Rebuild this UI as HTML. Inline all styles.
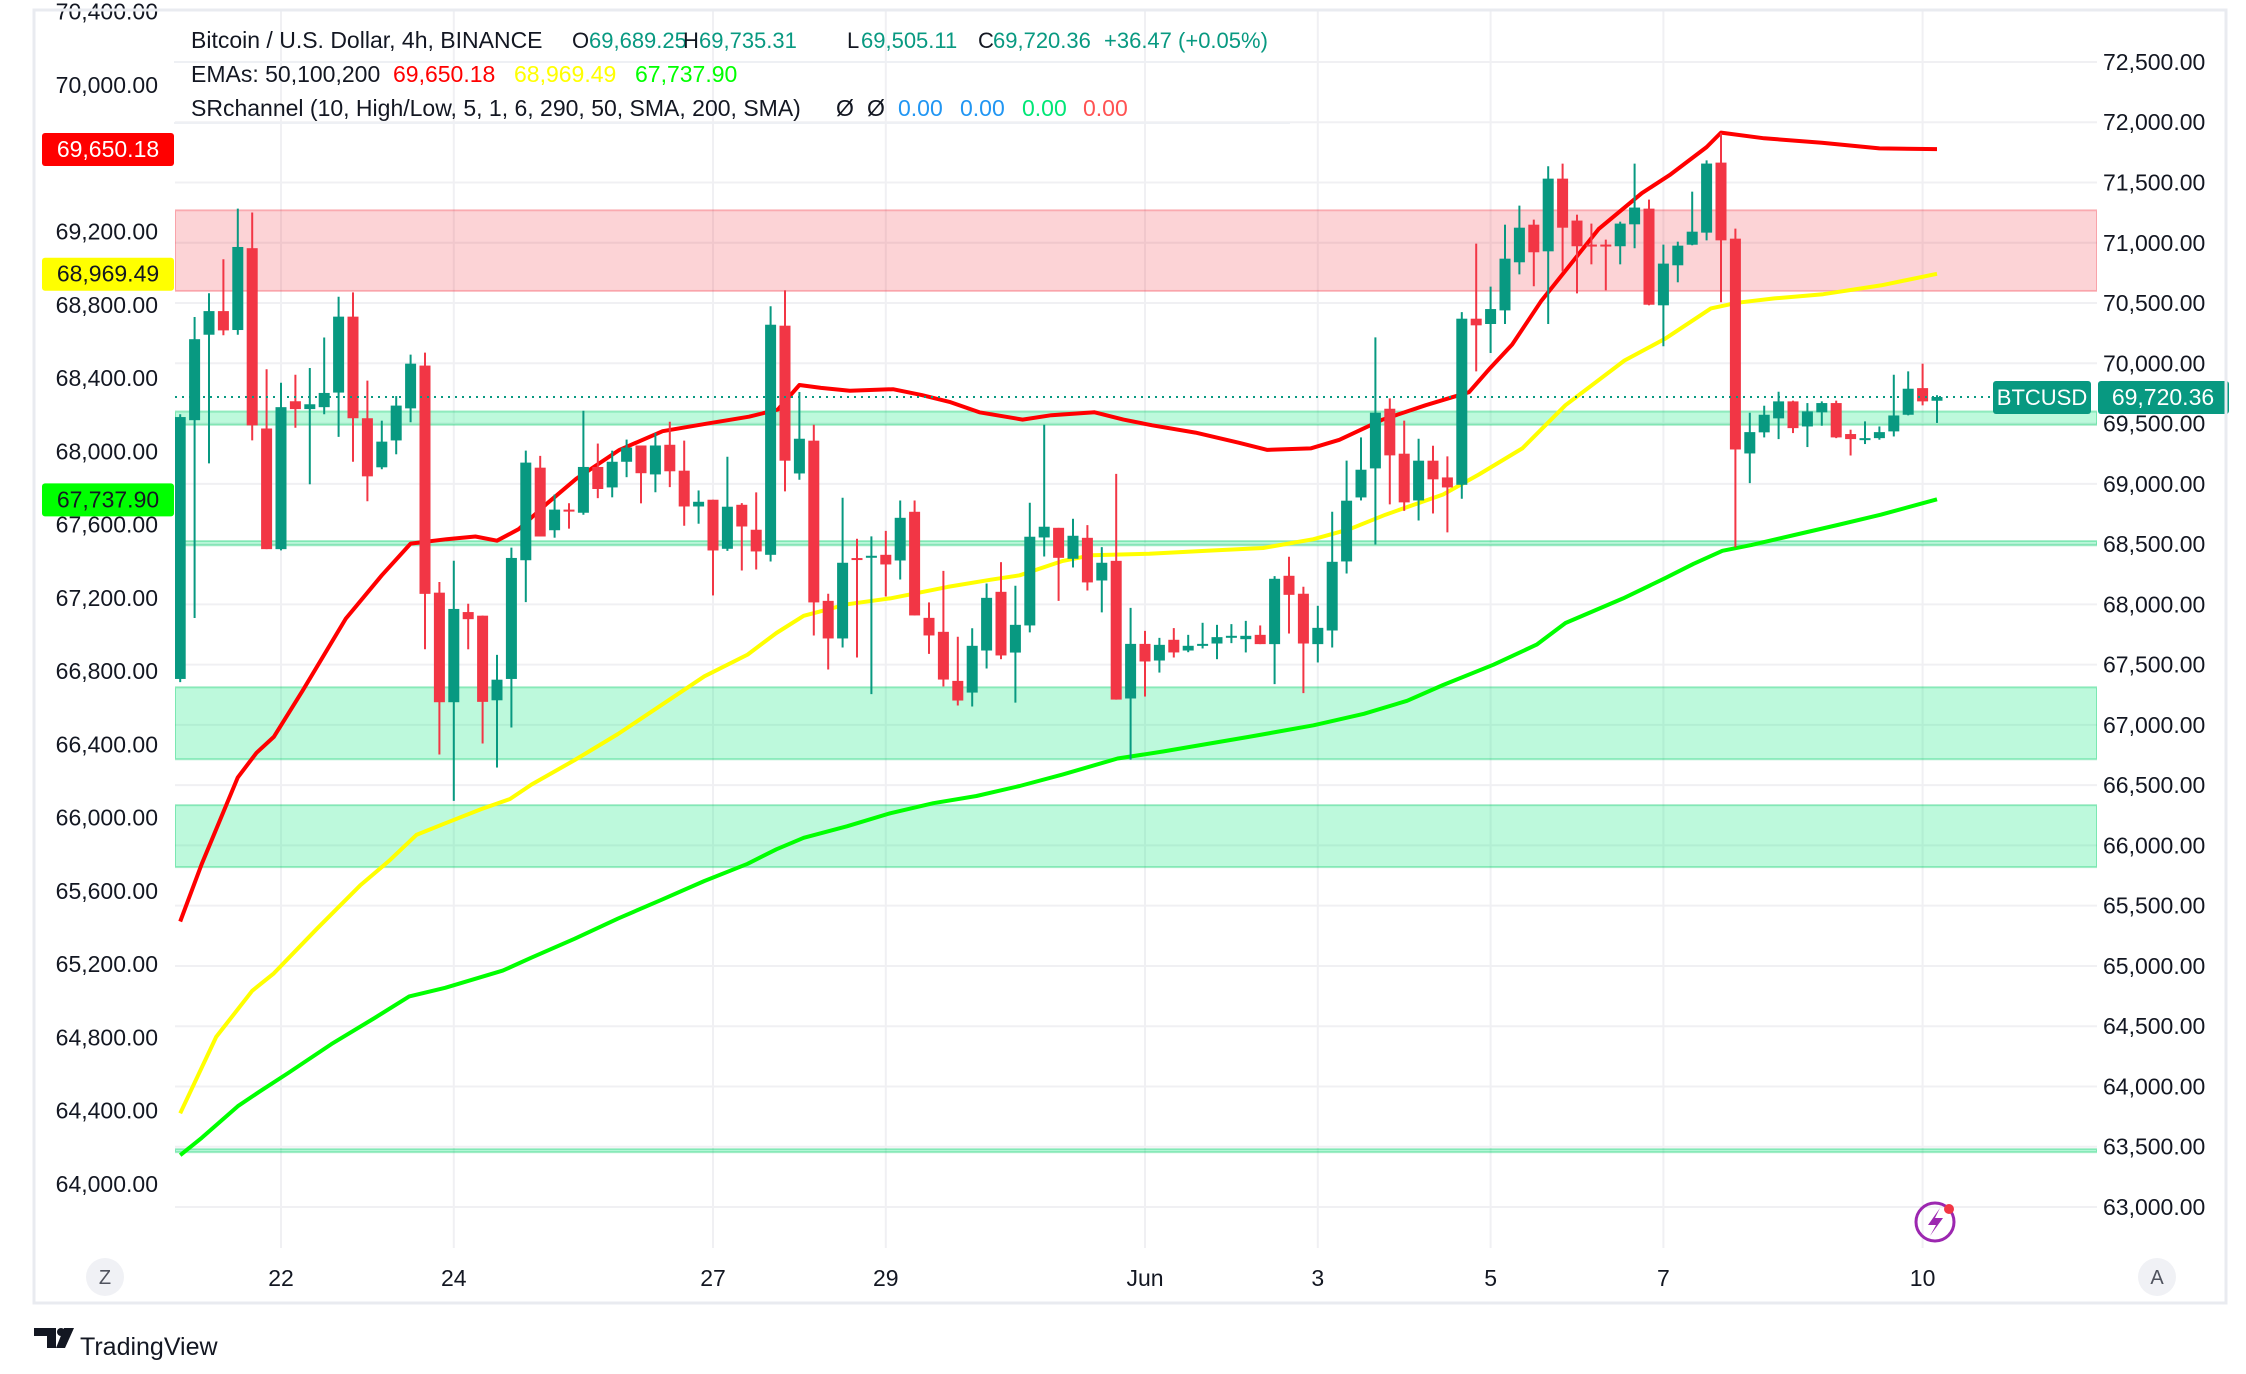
<!DOCTYPE html>
<html><head><meta charset="utf-8"><title>BTCUSD 4h</title>
<style>
html,body{margin:0;padding:0;background:#fff;}
svg{display:block;font-family:"Liberation Sans","DejaVu Sans",sans-serif;}
</style></head>
<body>
<svg id="chart" xmlns="http://www.w3.org/2000/svg" width="2246" height="1374" viewBox="0 0 2246 1374">
  <rect x="0" y="0" width="2246" height="1374" fill="#ffffff"/>
  <g id="grid"></g>
  <g id="zones"></g>
  <g id="plot"></g>
  <g id="axes"></g>
  <rect x="34" y="10" width="2192" height="1293" fill="none" stroke="#e9ebf0" stroke-width="3"/>
  <g font-size="23" fill="#131722">
    <text x="191" y="48">Bitcoin / U.S. Dollar, 4h, BINANCE</text>
    <text y="48" font-size="22"><tspan x="572">O</tspan><tspan x="589" fill="#089981">69,689.25</tspan><tspan x="683">H</tspan><tspan x="699" fill="#089981">69,735.31</tspan><tspan x="847">L</tspan><tspan x="861" fill="#089981">69,505.11</tspan><tspan x="978">C</tspan><tspan x="993" fill="#089981">69,720.36</tspan><tspan x="1104" fill="#089981">+36.47 (+0.05%)</tspan></text>
    <line x1="174" y1="62" x2="1290" y2="62" stroke="#eef0f4" stroke-width="2"/>
    <text x="191" y="82">EMAs: 50,100,200</text>
    <text x="393" y="82" fill="#ff0000">69,650.18</text>
    <text x="514" y="82" fill="#ffff00">68,969.49</text>
    <text x="635" y="82" fill="#00ff00">67,737.90</text>
    <text x="191" y="116">SRchannel (10, High/Low, 5, 1, 6, 290, 50, SMA, 200, SMA)</text>
    <text x="836" y="116">Ø</text>
    <text x="867" y="116">Ø</text>
    <text x="898" y="116" fill="#2196f3">0.00</text>
    <text x="960" y="116" fill="#2196f3">0.00</text>
    <text x="1022" y="116" fill="#00e676">0.00</text>
    <text x="1083" y="116" fill="#ff5252">0.00</text>
    <line x1="174" y1="123" x2="1290" y2="123" stroke="#eef0f4" stroke-width="2"/>
  </g>
  <g>
    <circle cx="105" cy="1277" r="19" fill="#f0f1f5"/>
    <text x="105" y="1284" font-size="20" text-anchor="middle" fill="#50535e">Z</text>
    <circle cx="2157" cy="1277" r="19" fill="#f0f1f5"/>
    <text x="2157" y="1284" font-size="20" text-anchor="middle" fill="#50535e">A</text>
  </g>
  <g>
    <circle cx="1935" cy="1222" r="19" fill="none" stroke="#9c27b0" stroke-width="3"/>
    <path d="M1940 1208 L1928 1225 L1936 1225 L1930 1236 L1943 1218 L1935 1218 Z" fill="#9c27b0"/>
    <circle cx="1949" cy="1209" r="5" fill="#f23645"/>
  </g>
  <g>
    <path d="M34 1328 H56 V1348 H47 V1336 H34 Z" fill="#131722"/>
    <circle cx="61" cy="1332" r="4" fill="#131722"/>
    <path d="M64 1328 H74 L65 1348 H56 Z" fill="#131722"/>
    <text x="80" y="1355" font-size="25" fill="#131722">TradingView</text>
  </g>
</svg>
<script>
// ---- candle data (BTCUSD 4h) ----
const opens = [67381,69528,70237,70433,70276,70955,69459,68458,69685,69620,69636,69757,70387,69544,69137,69360,69626,69981,68097,67188,67936,67906,67204,67381,68366,69134,68615,68786,68760,69140,68970,69183,69318,69078,69324,69109,68812,68868,68461,68826,68619,68411,70312,69086,69358,68029,67717,68384,68395,68411,68364,68768,67888,67772,67365,67268,67617,68104,67600,67825,68555,68635,68378,68552,68198,68361,67219,67672,67534,67706,67617,67661,67675,67731,67711,67747,67670,68237,68088,67670,67783,68356,68887,69128,69623,69250,68862,69192,69053,68992,70370,70326,70439,70838,71150,70929,71532,71184,70985,70985,70971,71153,71283,70481,70813,70984,71084,71665,71034,69252,69427,69543,69684,69476,69593,69670,69413,69363,69379,69435,69573,69794,69689.25];
const highs = [69577,70384,70581,70863,71283,71251,69951,69839,69905,69961,70214,70552,70588,69856,69524,69728,70072,70089,68185,68362,68005,67906,67581,68471,69275,69232,68911,68839,69606,69334,69275,69367,69318,69423,69515,69358,68945,68868,69225,68840,68929,70473,70605,69762,69490,68088,68884,68544,68564,68610,68862,68862,68016,68278,67731,67802,68173,68350,68154,68843,69490,68635,68710,68657,68475,69083,67971,67780,67722,67803,67747,67847,67830,67836,67863,67825,68234,68395,68146,67988,68768,69192,69385,70215,69709,69524,69374,69316,69228,70425,70993,70636,71150,71308,71192,71635,71657,71233,71159,71026,71175,71657,71358,70985,71009,71424,71684,71910,71117,69590,69648,69764,69690,69670,69684,69690,69449,69518,69476,69905,69933,69997,69735.31];
const lows = [67355,67887,69170,70233,70237,69360,68458,68448,69465,68996,69577,69390,69183,68855,69121,69245,69511,67627,66754,66370,67627,66846,66646,66978,68018,68563,68553,68628,68743,68881,68888,69055,68838,68930,68973,68652,68669,68074,68444,68281,68289,68356,68937,69034,67742,67459,67642,67559,67255,68065,68206,67908,67589,67318,67161,67152,67468,67545,67185,67767,68397,68029,68306,68115,67933,67210,66712,67235,67434,67559,67603,67634,67545,67678,67601,67670,67338,67758,67263,67518,67642,68256,68862,68497,68829,68776,68696,68754,68597,68876,69933,70085,70326,70738,70639,70326,70763,70580,70821,70605,70821,70954,70481,70141,70672,70979,71020,70506,68473,69006,69385,69371,69421,69305,69482,69379,69235,69330,69366,69393,69568,69651,69505.11];
const closes = [69554,70200,70433,70273,70965,69485,68458,69636,69620,69660,69754,70387,69544,69062,69350,69649,69997,68087,67188,67962,67877,67191,67375,68385,69176,68563,68786,68780,69140,68957,69183,69301,69088,69318,69104,68812,68851,68447,68810,68646,68439,70320,69192,69374,68016,67717,68345,68375,68403,68331,68718,67908,67742,67376,67202,67656,68054,67576,67830,68561,68644,68386,68569,68182,68345,67210,67672,67526,67664,67601,67656,67672,67728,67739,67739,67670,68212,68079,67675,67805,68353,68860,69117,69590,69236,68846,69192,69037,68970,70370,70315,70450,70868,71125,70921,71532,71125,70971,70971,70971,71159,71292,70486,70827,70976,71092,71657,71020,69285,69429,69573,69684,69462,69601,69670,69385,69371,69379,69429,69567,69789,69684,69720.36];
const lastPrice = 69720.36;

// ---- EMA data (left scale), sampled at bar index ----
const ema50Idx = [0,1.5,4,5.3,6.5,8.5,11.5,14,16,18.5,20.5,22,23.5,25.5,27.5,30.5,33.5,36.5,39.5,41.5,43,44.5,46.5,49.5,51.5,53.5,55.5,58.5,60.5,63.5,65.5,67.5,70.5,73.5,75.5,78.5,80.5,83.5,86.5,89.5,91,92.5,94.5,96.5,98.5,101.5,103.5,106,107,110,114,118,122];
const ema50 = [65433,65748,66220,66354,66441,66693,67087,67323,67496,67520,67535,67512,67575,67717,67850,68008,68110,68150,68189,68228,68362,68346,68331,68339,68307,68268,68213,68173,68197,68213,68173,68142,68102,68047,68008,68016,68063,68173,68252,68323,68457,68583,68819,69016,69213,69409,69512,69661,69740,69709,69685,69654,69650];
const ema100Idx = [0,2.5,5,6.5,9.5,12.5,14.5,16.4,18.4,20.9,22.9,24.4,27.4,30.4,33.4,36.4,39.4,41.4,43.3,46.3,49.3,53.3,56.3,58.3,61.3,63.3,67.3,71.3,75.2,78.7,81.2,83.7,87.7,90.2,93.2,96.2,100.3,103.1,106.3,108.1,110.7,114.1,118.1,122];
const ema100 = [64386,64803,65055,65150,65394,65630,65764,65906,65969,66047,66102,66181,66315,66457,66614,66772,66890,67008,67102,67165,67197,67260,67299,67323,67402,67433,67441,67457,67472,67520,67575,67654,67764,67874,68016,68252,68496,68614,68780,68811,68835,68858,68906,68969];
const ema200Idx = [0,1.5,4,5.5,7.5,10.5,13.5,15.9,18.4,20.4,22.4,24.4,27.4,30.4,33.4,36.4,39.4,41.4,43.3,46.3,49.3,52.3,55.3,58.3,61.3,65.1,68.3,71.3,74.2,78.7,82.2,85.2,87.7,91.2,94.2,96.2,100.2,103.1,105.1,107.1,109.1,112.1,115.1,118.1,122];
const ema200 = [64157,64252,64425,64504,64606,64764,64906,65024,65071,65118,65165,65236,65339,65449,65551,65654,65748,65827,65890,65953,66024,66079,66118,66173,66236,66323,66362,66402,66441,66504,66567,66638,66724,66835,66945,67063,67197,67307,67386,67457,67488,67543,67598,67654,67738];
const emaLast = [69650.18, 68969.49, 67737.90];

// ---- axes data ----
const rightTicks = [63000,63500,64000,64500,65000,65500,66000,66500,67000,67500,68000,68500,69000,69500,70000,70500,71000,71500,72000,72500];
const leftTicks = [64000,64400,64800,65200,65600,66000,66400,66800,67200,67600,68000,68400,68800,69200,69600,70000,70400];
const dateLabels = ["22","24","27","29","Jun","3","5","7","10"];
const dateIdx = [7,19,37,49,67,79,91,103,121];

// ---- SR zones (right scale) ----
const zoneLow = [70600,69490,68490,66715,65820,63455];
const zoneHigh = [71270,69600,68525,67312,66334,63480];
const zoneKind = ["resistance","support","support","support","support","support"];

// ---- scales ----
const PL = 175, PR = 2097, PT = 10, PB = 1248;
const xAt = i => 281 + 14.40 * (i - 7);
const yR = p => 1207 - (p - 63000) * 0.12053;
const yL = p => 1184 - (p - 64000) * 0.18317;
const NS = "http://www.w3.org/2000/svg";
function mk(tag, attrs, parent) {
  const e = document.createElementNS(NS, tag);
  for (const k in attrs) e.setAttribute(k, attrs[k]);
  parent.appendChild(e);
  return e;
}
const fmt = v => v.toLocaleString("en-US", {minimumFractionDigits: 2, maximumFractionDigits: 2});

const svg = document.getElementById("chart");
const grid = document.getElementById("grid");
const zones = document.getElementById("zones");
const plot = document.getElementById("plot");
const axes = document.getElementById("axes");

const defs = mk("defs", {}, svg);
const cp = mk("clipPath", {id: "plotclip"}, defs);
mk("rect", {x: PL, y: PT, width: PR - PL, height: PB - PT}, cp);
plot.setAttribute("clip-path", "url(#plotclip)");
zones.setAttribute("clip-path", "url(#plotclip)");

rightTicks.forEach(t => {
  const l = mk("line", {x1: PL, x2: PR, y1: yR(t), y2: yR(t), stroke: "#f0f0f3", "stroke-width": 2}, grid);
  
  
});
dateIdx.forEach(i => {
  const l = mk("line", {x1: xAt(i), x2: xAt(i), y1: PT, y2: PB, stroke: "#f0f0f3", "stroke-width": 2}, grid);
  
  
});

zoneLow.forEach((lo, k) => {
  const hi = zoneHigh[k];
  const red = zoneKind[k] === "resistance";
  const r = mk("rect", {x: PL, y: yR(hi), width: PR - PL, height: Math.max(2, yR(lo) - yR(hi)),
    fill: red ? "rgba(242,54,69,0.22)" : "rgba(0,230,118,0.26)",
    stroke: red ? "rgba(242,54,69,0.3)" : "rgba(0,200,100,0.35)", "stroke-width": 2}, zones);
  
  
});

function emaLine(idx, vals, color, name) {
  const pts = idx.map((i, k) => xAt(i).toFixed(1) + "," + yL(vals[k]).toFixed(1)).join(" ");
  const pl = mk("polyline", {points: pts, fill: "none", stroke: color, "stroke-width": 4, "stroke-linejoin": "round"}, plot);
  
  
}
emaLine(ema200Idx, ema200, "#00ff00", "ema200-line");
emaLine(ema100Idx, ema100, "#ffff00", "ema100-line");
emaLine(ema50Idx, ema50, "#ff0000", "ema50-line");

const pline = mk("line", {x1: PL, x2: 1993, y1: yR(lastPrice), y2: yR(lastPrice), stroke: "#089981", "stroke-width": 2, "stroke-dasharray": "2 5"}, svg);



opens.forEach((o, i) => {
  const c = closes[i], h = highs[i], l = lows[i];
  const up = c >= o;
  const col = up ? "#089981" : "#f23645";
  const g = mk("g", {}, plot);
  
  
  const x = xAt(i);
  mk("line", {x1: x, x2: x, y1: yR(h), y2: yR(l), stroke: col, "stroke-width": 2}, g);
  const top = yR(Math.max(o, c)), bot = yR(Math.min(o, c));
  mk("rect", {x: x - 5.5, y: top, width: 11, height: Math.max(2, bot - top), fill: col}, g);
});

leftTicks.forEach(t => {
  const y = yL(t);
  if (emaLast.some(v => Math.abs(yL(v) - y) < 20)) return;
  const tx = mk("text", {x: 158, y: y + 8, "font-size": 23, "text-anchor": "end", fill: "#131722"}, axes);
  tx.textContent = fmt(t);
  
  
});
rightTicks.forEach(t => {
  const tx = mk("text", {x: 2103, y: yR(t) + 8, "font-size": 23, fill: "#131722"}, axes);
  tx.textContent = fmt(t);
  
  
});
const badgeBg = ["#ff0000", "#ffff00", "#00ff00"];
const badgeFg = ["#ffffff", "#131722", "#131722"];
emaLast.forEach((v, k) => {
  const y = yL(v);
  const r = mk("rect", {x: 42, y: y - 16, width: 132, height: 33, rx: 3, fill: badgeBg[k]}, axes);
  
  
  const tx = mk("text", {x: 108, y: y + 8, "font-size": 23, "text-anchor": "middle", fill: badgeFg[k]}, axes);
  tx.textContent = fmt(v);
  
  
});
const py = yR(lastPrice);
const b1 = mk("rect", {x: 1993, y: py - 16, width: 98, height: 33, rx: 3, fill: "#089981"}, axes);


const t1 = mk("text", {x: 2042, y: py + 8, "font-size": 22, "text-anchor": "middle", fill: "#ffffff"}, axes);
t1.textContent = "BTCUSD";


const b2 = mk("rect", {x: 2098, y: py - 16, width: 131, height: 33, rx: 3, fill: "#089981"}, axes);


const t2 = mk("text", {x: 2163, y: py + 8, "font-size": 23, "text-anchor": "middle", fill: "#ffffff"}, axes);
t2.textContent = fmt(lastPrice);



dateLabels.forEach((lab, k) => {
  const tx = mk("text", {x: xAt(dateIdx[k]), y: 1286, "font-size": 23, "text-anchor": "middle", fill: "#131722"}, axes);
  tx.textContent = lab;
  
  
});
</script>
</body></html>
